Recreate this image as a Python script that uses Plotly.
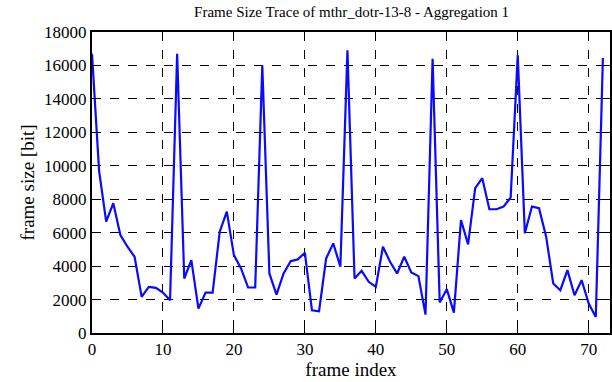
import plotly.graph_objects as go

frame_index = list(range(73))
frame_size = [
    16700, 9700, 6660, 7760, 5860, 5160, 4560, 2160, 2760, 2700,
    2420, 1960, 16700, 3260, 4360, 1460, 2420, 2420, 6060, 7260,
    4660, 3860, 2720, 2720, 16000, 3560, 2300, 3560, 4300, 4400,
    4800, 1360, 1300, 4460, 5360, 3960, 16900, 3260, 3720, 3060,
    2760, 5160, 4260, 3560, 4560, 3620, 3400, 1100, 16400, 1820,
    2620, 1220, 6760, 5300, 8660, 9260, 7400, 7400, 7560, 8100,
    16600, 5960, 7560, 7460, 5760, 2960, 2560, 3760, 2260, 3160,
    1760, 960, 16450,
]
x_ticks = [0, 10, 20, 30, 40, 50, 60, 70]
y_ticks = [0, 2000, 4000, 6000, 8000, 10000, 12000, 14000, 16000, 18000]

font = "Liberation Serif, Times New Roman, serif"

fig = go.Figure()
fig.add_trace(go.Scatter(
    x=frame_index, y=frame_size, mode="lines",
    line=dict(color="#0a0aff", width=2.2),
))

fig.update_layout(
    width=612, height=382,
    margin=dict(l=92, r=2, t=32, b=49, autoexpand=False),
    paper_bgcolor="white", plot_bgcolor="white",
    showlegend=False,
    font=dict(family=font, size=16, color="black"),
    title=dict(
        text="Frame Size Trace of mthr_dotr-13-8 - Aggregation 1",
        x=0.5745, xanchor="center", y=0.968, yanchor="middle",
        font=dict(family=font, size=15, color="black"),
    ),
)
fig.update_xaxes(
    range=[0, 73], tickvals=x_ticks, ticktext=[str(v) for v in x_ticks],
    showgrid=True, gridcolor="black", gridwidth=1, griddash="dash",
    showline=True, linecolor="black", linewidth=2, mirror="ticks",
    ticks="inside", ticklen=5, tickcolor="black", zeroline=False,
    title=dict(text="frame index", standoff=4, font=dict(family=font, size=19)),
    tickfont=dict(family=font, size=17),
)
fig.update_yaxes(
    range=[0, 18000], tickvals=y_ticks, ticktext=[str(v) for v in y_ticks],
    showgrid=True, gridcolor="black", gridwidth=1, griddash="dash",
    showline=True, linecolor="black", linewidth=2, mirror="ticks",
    ticks="inside", ticklen=5, tickcolor="black", zeroline=False,
    title=dict(text="frame size [bit]", standoff=4, font=dict(family=font, size=19)),
    tickfont=dict(family=font, size=17),
)

fig.write_html("out.html", config={"displayModeBar": False},
               post_script="document.body.style.margin='0px';")
